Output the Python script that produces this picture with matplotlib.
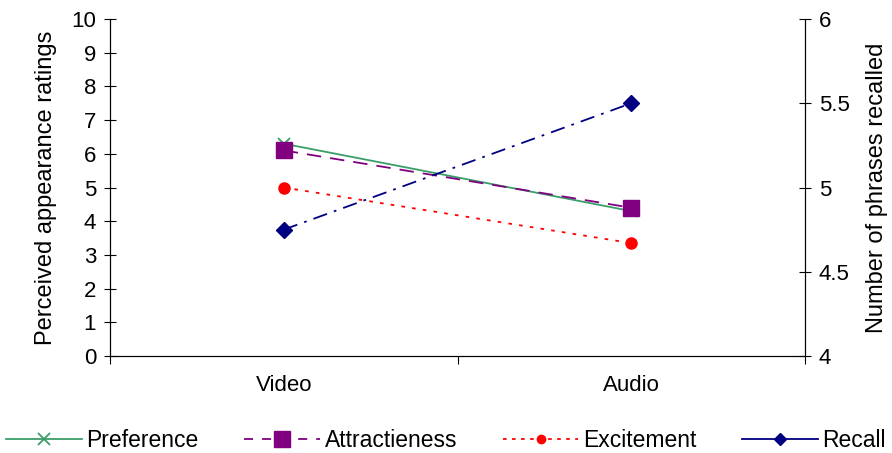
import matplotlib
matplotlib.use("Agg")
import matplotlib.pyplot as plt
from matplotlib.lines import Line2D

plt.rcParams['font.family'] = ['Liberation Sans', 'DejaVu Sans']

categories = ["Video", "Audio"]
preference = [6.3, 4.3]
attractiveness = [6.1, 4.4]
excitement = [5.0, 3.35]
recall = [4.75, 5.5]

green = "#3A9E6A"
purple = "#800080"
red = "#FF0000"
navy = "#000080"

fig = plt.figure(figsize=(8.92, 4.53), dpi=100)
ax = fig.add_axes([110 / 892, 97 / 453, 695 / 892, 337 / 453])
ax2 = ax.twinx()

xs = [0.5, 1.5]
ax.plot(xs, preference, color=green, lw=1.3, marker="x", ms=8, mew=1.3)
ax.plot(xs, attractiveness, color=purple, lw=1.3, ls=(0, (8, 5)),
        marker="s", ms=12)
ax.plot(xs, excitement, color=red, lw=1.3, ls=(0, (2, 4)),
        marker="o", ms=8)
ax2.plot(xs, recall, color=navy, lw=1.3, ls=(0, (8, 4, 1.5, 4)),
         marker="D", ms=8)

ax.set_xlim(0, 2)
ax.set_ylim(0, 10)
ax.set_yticks(range(0, 11))
ax2.set_ylim(4, 6)
ax2.set_yticks([4, 4.5, 5, 5.5, 6])
ax2.set_yticklabels(["4", "4.5", "5", "5.5", "6"])

ax.set_xticks([0, 1, 2])
ax.set_xticklabels([])
ax.set_xticks(xs, minor=True)
ax.set_xticklabels(categories, minor=True)
ax.tick_params(axis="x", which="major", direction="out", length=6, width=0.8)
ax.tick_params(axis="x", which="minor", length=0, pad=14, labelsize=16)
ax.tick_params(axis="y", direction="inout", length=8, width=0.8,
               labelsize=16, pad=6)
ax2.tick_params(axis="y", direction="inout", length=8, width=0.8,
                labelsize=16, pad=6)

for a in (ax, ax2):
    a.spines["top"].set_visible(False)
    for s in a.spines.values():
        s.set_linewidth(0.8)

ax.set_ylabel("Perceived appearance ratings", fontsize=17, labelpad=10)
ax2.set_ylabel("Number of phrases recalled", fontsize=17, labelpad=12)

handles = [
    Line2D([], [], color=green, lw=1.3, marker="x", ms=8, mew=1.3),
    Line2D([], [], color=purple, lw=1.3, ls=(0, (5, 5)), marker="s", ms=12),
    Line2D([], [], color=red, lw=1.3, ls=(0, (2, 3)), marker="o", ms=6),
    Line2D([], [], color=navy, lw=1.3, marker="D", ms=6),
]
labels = ["Preference", "Attractieness", "Excitement", "Recall"]
fig.legend(handles, labels, loc="center", bbox_to_anchor=(0.5, 0.028),
           ncol=4, frameon=False, fontsize=16.5, handlelength=3.3,
           handletextpad=0.2, columnspacing=2.0, borderaxespad=0.0)

fig.savefig("out.png", dpi=100)
